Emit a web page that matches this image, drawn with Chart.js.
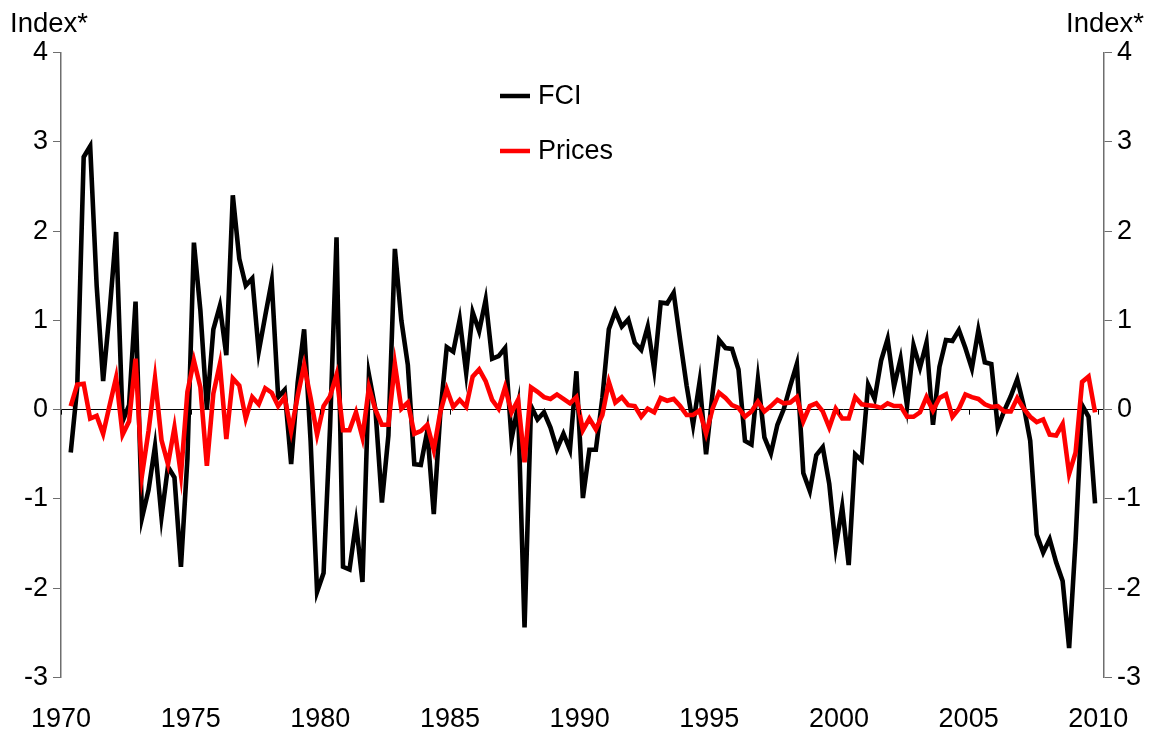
<!DOCTYPE html>
<html>
<head>
<meta charset="utf-8">
<script src="https://cdn.jsdelivr.net/npm/chart.js@4"></script>
<style>
  html, body { margin: 0; padding: 0; background: #fff; }
  #wrap { position: relative; width: 1163px; height: 740px; }
</style>
</head>
<body>
<div id="wrap"><canvas id="fciChart" width="1163" height="740"></canvas></div>
<script>
// Quarterly series, 1970 Q2 .. 2009 Q4
const firstYear = 1970;
const firstQuarter = 2;

const fci = [
  -0.48, 0.25, 2.83, 2.95, 1.39, 0.32, 1.10, 1.99, -0.13, 0.05,
  1.21, -1.21, -0.90, -0.41, -1.20, -0.64, -0.76, -1.76, -0.55, 1.87,
  1.11, 0.01, 0.90, 1.16, 0.61, 2.40, 1.69, 1.39, 1.47, 0.65,
  1.05, 1.44, 0.14, 0.22, -0.61, 0.30, 0.90, -0.35, -2.04, -1.83,
  -0.20, 1.93, -1.76, -1.79, -1.27, -1.93, 0.39, 0.00, -1.04, -0.29,
  1.80, 1.00, 0.50, -0.61, -0.62, -0.24, -1.17, -0.05, 0.70, 0.65,
  1.01, 0.41, 1.09, 0.88, 1.23, 0.57, 0.60, 0.69, -0.33, 0.05,
  -2.44, 0.04, -0.11, -0.03, -0.20, -0.44, -0.27, -0.45, 0.43, -0.99,
  -0.45, -0.45, 0.13, 0.90, 1.10, 0.93, 1.01, 0.75, 0.67, 0.93,
  0.45, 1.20, 1.19, 1.31, 0.78, 0.27, -0.17, 0.31, -0.50, 0.18,
  0.78, 0.69, 0.68, 0.45, -0.35, -0.39, 0.34, -0.31, -0.49, -0.17,
  0.01, 0.27, 0.51, -0.71, -0.91, -0.51, -0.42, -0.83, -1.54, -1.09,
  -1.74, -0.50, -0.57, 0.28, 0.12, 0.55, 0.79, 0.26, 0.57, 0.04,
  0.72, 0.47, 0.75, -0.17, 0.48, 0.78, 0.77, 0.89, 0.69, 0.46,
  0.89, 0.53, 0.51, -0.20, -0.01, 0.15, 0.34, 0.04, -0.35, -1.40,
  -1.60, -1.45, -1.71, -1.92, -2.67, -1.46, 0.05, -0.08, -1.05
];

const prices = [
  0.04, 0.28, 0.29, -0.10, -0.07, -0.27, 0.05, 0.36, -0.28, -0.13,
  0.57, -0.73, -0.24, 0.35, -0.34, -0.61, -0.20, -0.73, 0.20, 0.55,
  0.25, -0.63, 0.18, 0.51, -0.33, 0.35, 0.27, -0.10, 0.14, 0.06,
  0.24, 0.19, 0.04, 0.14, -0.24, 0.15, 0.50, 0.13, -0.28, 0.04,
  0.15, 0.39, -0.23, -0.23, -0.03, -0.31, 0.25, 0.00, -0.17, -0.17,
  0.51, 0.01, 0.08, -0.27, -0.24, -0.17, -0.45, -0.03, 0.23, 0.03,
  0.11, 0.03, 0.37, 0.45, 0.32, 0.11, 0.01, 0.25, -0.03, 0.11,
  -0.59, 0.25, 0.20, 0.14, 0.12, 0.17, 0.12, 0.07, 0.14, -0.23,
  -0.10, -0.22, -0.06, 0.31, 0.08, 0.14, 0.05, 0.04, -0.08, 0.01,
  -0.03, 0.13, 0.10, 0.12, 0.04, -0.06, -0.06, -0.01, -0.27, 0.01,
  0.19, 0.13, 0.05, 0.02, -0.08, -0.02, 0.09, -0.02, 0.04, 0.11,
  0.07, 0.08, 0.14, -0.13, 0.04, 0.07, -0.02, -0.20, 0.01, -0.10,
  -0.10, 0.14, 0.06, 0.05, 0.04, 0.02, 0.07, 0.04, 0.04, -0.08,
  -0.08, -0.03, 0.14, -0.01, 0.13, 0.17, -0.08, 0.01, 0.17, 0.14,
  0.12, 0.06, 0.03, 0.04, -0.02, -0.02, 0.13, 0.01, -0.08, -0.14,
  -0.11, -0.28, -0.29, -0.16, -0.72, -0.48, 0.31, 0.37, -0.03
];

const yearTicks = [1970, 1975, 1980, 1985, 1990, 1995, 2000, 2005, 2010];
const yTicks = [-3, -2, -1, 0, 1, 2, 3, 4];
const seriesNames = ['FCI', 'Prices'];
const unitLabel = 'Index*';

const FONT = "'Liberation Sans', Arial, sans-serif";

// quarter categories -> position in the middle of each quarter on a year axis
const quarters = fci.map((_, i) => {
  const n = (firstQuarter - 1) + i;
  return { year: firstYear + Math.floor(n / 4), q: (n % 4) + 1 };
});
const toPoints = arr => arr.map((v, i) => ({ x: quarters[i].year + (quarters[i].q - 0.5) / 4, y: v }));

// zero line tick marks, "Index*" labels and legend
const decorations = {
  id: 'decorations',
  afterDraw(chart) {
    const { ctx, scales } = chart;
    const y0 = scales.y.getPixelForValue(0);
    ctx.save();
    ctx.strokeStyle = '#000';
    ctx.lineWidth = 1;
    yearTicks.forEach(v => {
      const px = Math.round(scales.x.getPixelForValue(v)) + 0.5;
      ctx.beginPath();
      ctx.moveTo(px, y0);
      ctx.lineTo(px, y0 + 5);
      ctx.stroke();
    });

    ctx.fillStyle = '#000';
    ctx.font = '27.5px ' + FONT;
    ctx.textBaseline = 'alphabetic';
    ctx.textAlign = 'left';
    ctx.fillText(unitLabel, 10, 32);
    ctx.textAlign = 'right';
    ctx.fillText(unitLabel, 1144, 32);

    // legend
    ctx.font = '27px ' + FONT;
    chart.data.datasets.forEach((ds, i) => {
      const ly = 96 + i * 55;
      ctx.strokeStyle = ds.borderColor;
      ctx.lineWidth = 4.5;
      ctx.beginPath();
      ctx.moveTo(500, ly);
      ctx.lineTo(530, ly);
      ctx.stroke();
      ctx.fillStyle = '#000';
      ctx.textAlign = 'left';
      ctx.textBaseline = 'middle';
      ctx.fillText(ds.label, 538, ly + 1);
    });
    ctx.restore();
  }
};

const axisGrey = '#6e6e6e';

new Chart(document.getElementById('fciChart'), {
  type: 'line',
  data: {
    datasets: [
      {
        label: seriesNames[0],
        data: toPoints(fci),
        borderColor: '#000000',
        borderWidth: 4.6,
        pointRadius: 0,
        tension: 0,
        order: 2
      },
      {
        label: seriesNames[1],
        data: toPoints(prices),
        borderColor: '#ff0000',
        borderWidth: 4.6,
        pointRadius: 0,
        tension: 0,
        order: 1
      }
    ]
  },
  options: {
    responsive: false,
    animation: false,
    devicePixelRatio: 1,
    layout: { padding: { top: 52.5, left: 0, right: 0, bottom: 0 } },
    plugins: {
      legend: { display: false },
      tooltip: { enabled: false }
    },
    scales: {
      x: {
        type: 'linear',
        min: 1970,
        max: 2010.22,
        afterBuildTicks: s => { s.ticks = yearTicks.map(v => ({ value: v })); },
        afterFit: s => { s.height = 62.5; },
        grid: { display: false },
        border: { display: false },
        ticks: {
          color: '#000',
          font: { size: 27, family: FONT },
          padding: 18,
          maxRotation: 0,
          autoSkip: false,
          callback: v => String(v)
        }
      },
      y: {
        position: 'left',
        min: -3,
        max: 4,
        afterBuildTicks: s => { s.ticks = yTicks.map(v => ({ value: v })); },
        afterFit: s => { s.width = 61; },
        grid: {
          drawOnChartArea: true,
          color: c => (c.tick && c.tick.value === 0) ? '#000' : 'rgba(0,0,0,0)',
          tickColor: axisGrey,
          tickLength: 8,
          lineWidth: 1
        },
        border: { display: true, color: axisGrey, width: 1.5 },
        ticks: { color: '#000', font: { size: 27, family: FONT }, padding: 5 }
      },
      y2: {
        position: 'right',
        min: -3,
        max: 4,
        afterBuildTicks: s => { s.ticks = yTicks.map(v => ({ value: v })); },
        afterFit: s => { s.width = 59; },
        grid: { drawOnChartArea: false, tickColor: axisGrey, tickLength: 8 },
        border: { display: true, color: axisGrey, width: 1.5 },
        ticks: { color: '#000', font: { size: 27, family: FONT }, padding: 5 }
      }
    }
  },
  plugins: [decorations]
});
</script>
</body>
</html>
